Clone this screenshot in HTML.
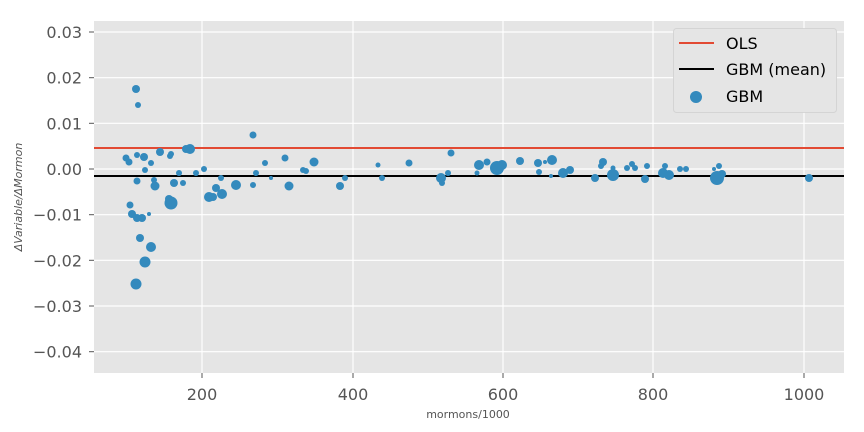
<!DOCTYPE html>
<html><head><meta charset="utf-8"><style>body{margin:0;background:#fff}svg{display:block}text{font-family:"DejaVu Sans","Liberation Sans",sans-serif}</style></head><body>
<svg width="864" height="432" xmlns="http://www.w3.org/2000/svg">
<rect x="94" y="21" width="750" height="352" fill="#e5e5e5"/>
<g stroke="#fff" stroke-width="1.2">
<line x1="94" x2="844" y1="32" y2="32"/><line x1="94" x2="844" y1="77.7" y2="77.7"/><line x1="94" x2="844" y1="123.3" y2="123.3"/><line x1="94" x2="844" y1="169" y2="169"/><line x1="94" x2="844" y1="214.7" y2="214.7"/><line x1="94" x2="844" y1="260.3" y2="260.3"/><line x1="94" x2="844" y1="306" y2="306"/><line x1="94" x2="844" y1="351.7" y2="351.7"/>
<line y1="21" y2="373" x1="202" x2="202"/><line y1="21" y2="373" x1="353" x2="353"/><line y1="21" y2="373" x1="503" x2="503"/><line y1="21" y2="373" x1="653" x2="653"/><line y1="21" y2="373" x1="804" x2="804"/>
</g>
<g stroke="#555" stroke-width="1">
<line x1="89" x2="94" y1="32" y2="32"/><line x1="89" x2="94" y1="77.7" y2="77.7"/><line x1="89" x2="94" y1="123.3" y2="123.3"/><line x1="89" x2="94" y1="169" y2="169"/><line x1="89" x2="94" y1="214.7" y2="214.7"/><line x1="89" x2="94" y1="260.3" y2="260.3"/><line x1="89" x2="94" y1="306" y2="306"/><line x1="89" x2="94" y1="351.7" y2="351.7"/>
<line y1="373" y2="378" x1="202" x2="202"/><line y1="373" y2="378" x1="353" x2="353"/><line y1="373" y2="378" x1="503" x2="503"/><line y1="373" y2="378" x1="653" x2="653"/><line y1="373" y2="378" x1="804" x2="804"/>
</g>
<g fill="#555" font-size="16" text-anchor="end">
<text x="82" y="38">0.03</text><text x="82" y="83.7">0.02</text><text x="82" y="129.3">0.01</text><text x="82" y="175">0.00</text><text x="82" y="220.7">−0.01</text><text x="82" y="266.3">−0.02</text><text x="82" y="312">−0.03</text><text x="82" y="357.7">−0.04</text>
</g>
<g fill="#555" font-size="16" text-anchor="middle">
<text x="202" y="400">200</text><text x="353" y="400">400</text><text x="503" y="400">600</text><text x="653" y="400">800</text><text x="804" y="400">1000</text>
</g>
<text x="468" y="418" font-size="11" fill="#555" text-anchor="middle">mormons/1000</text>
<text transform="translate(22,197) rotate(-90)" font-size="11" fill="#555" text-anchor="middle" font-style="italic">ΔVariable/ΔMormon</text>
<line x1="94" x2="844" y1="148" y2="148" stroke="#e24a33" stroke-width="2"/>
<line x1="94" x2="844" y1="176" y2="176" stroke="#000" stroke-width="2"/>
<g fill="#348abd">
<circle cx="126" cy="158" r="3.5"/><circle cx="129" cy="162" r="3.5"/><circle cx="136" cy="89" r="4"/><circle cx="138" cy="105" r="3"/><circle cx="137" cy="155" r="3"/><circle cx="137" cy="181" r="3.5"/><circle cx="144" cy="157" r="4"/><circle cx="145" cy="170" r="3"/><circle cx="151" cy="163" r="3"/><circle cx="130" cy="205" r="3.5"/><circle cx="132" cy="214" r="4"/><circle cx="137" cy="218" r="4"/><circle cx="142" cy="218" r="4"/><circle cx="149" cy="214" r="2"/><circle cx="140" cy="238" r="4"/><circle cx="151" cy="247" r="5"/><circle cx="145" cy="262" r="5.5"/><circle cx="136" cy="284" r="5.5"/><circle cx="160" cy="152" r="4"/><circle cx="170" cy="156" r="3"/><circle cx="171" cy="154" r="3"/><circle cx="154" cy="180" r="3"/><circle cx="155" cy="186" r="4.5"/><circle cx="174" cy="183" r="4"/><circle cx="183" cy="183" r="3"/><circle cx="169" cy="199" r="4"/><circle cx="171" cy="203" r="6.5"/><circle cx="179" cy="173" r="3"/><circle cx="190" cy="149" r="5"/><circle cx="186" cy="149" r="4"/><circle cx="196" cy="173" r="3"/><circle cx="204" cy="169" r="3"/><circle cx="209" cy="197" r="5"/><circle cx="213" cy="197" r="4"/><circle cx="216" cy="188" r="4"/><circle cx="222" cy="194" r="5"/><circle cx="221" cy="178" r="3"/><circle cx="236" cy="185" r="5"/><circle cx="253" cy="135" r="3.5"/><circle cx="253" cy="185" r="3"/><circle cx="256" cy="173" r="3"/><circle cx="265" cy="163" r="3"/><circle cx="271" cy="178" r="2"/><circle cx="285" cy="158" r="3.5"/><circle cx="289" cy="186" r="4.5"/>
<circle cx="303" cy="170" r="3"/><circle cx="306" cy="171" r="3"/><circle cx="314" cy="162" r="4.5"/><circle cx="340" cy="186" r="4"/><circle cx="345" cy="178" r="3"/><circle cx="378" cy="165" r="2.5"/><circle cx="382" cy="178" r="3"/><circle cx="409" cy="163" r="3.5"/><circle cx="441" cy="178" r="5"/><circle cx="442" cy="183" r="3"/><circle cx="448" cy="173" r="3"/><circle cx="451" cy="153" r="3.5"/><circle cx="477" cy="173" r="2.5"/><circle cx="479" cy="165" r="5"/><circle cx="487" cy="162" r="3.5"/><circle cx="497" cy="168" r="7"/><circle cx="502" cy="165" r="5"/><circle cx="520" cy="161" r="4"/><circle cx="538" cy="163" r="4"/><circle cx="539" cy="172" r="3"/><circle cx="545" cy="162" r="2"/><circle cx="552" cy="160" r="5"/><circle cx="551" cy="176" r="2"/><circle cx="563" cy="173" r="5"/><circle cx="570" cy="170" r="4"/><circle cx="595" cy="178" r="4"/><circle cx="601" cy="166" r="3"/><circle cx="603" cy="162" r="4"/><circle cx="613" cy="168" r="2.5"/><circle cx="613" cy="175" r="6"/><circle cx="627" cy="168" r="3"/><circle cx="632" cy="164" r="3"/><circle cx="635" cy="168" r="3"/><circle cx="645" cy="179" r="4"/><circle cx="647" cy="166" r="3"/><circle cx="663" cy="173" r="5"/><circle cx="665" cy="166" r="3"/><circle cx="669" cy="175" r="5"/><circle cx="680" cy="169" r="3"/><circle cx="686" cy="169" r="3"/><circle cx="714" cy="169" r="2"/><circle cx="717" cy="178" r="7"/><circle cx="719" cy="166" r="3"/><circle cx="722" cy="174" r="4"/><circle cx="809" cy="178" r="4"/>
</g>
<rect x="673.5" y="28.5" width="163" height="84" rx="3" fill="#e5e5e5" stroke="#d0d0d0" stroke-opacity="0.8"/>
<line x1="679" x2="714" y1="43" y2="43" stroke="#e24a33" stroke-width="2"/>
<line x1="679" x2="714" y1="69" y2="69" stroke="#000" stroke-width="2"/>
<circle cx="696" cy="97" r="6" fill="#348abd"/>
<g font-size="16" fill="#000"><text x="726" y="49">OLS</text><text x="726" y="75">GBM (mean)</text><text x="726" y="102">GBM</text></g>
</svg>
</body></html>
